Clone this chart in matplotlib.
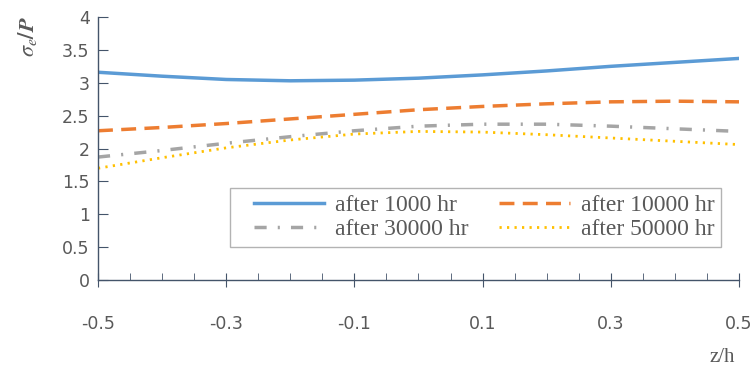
import numpy as np
from matplotlib import pyplot as plt
from matplotlib.lines import Line2D
from matplotlib.legend_handler import HandlerLine2D
from matplotlib.ticker import MultipleLocator

plt.rcParams["mathtext.fontset"] = "stix"

z = [-0.5, -0.4, -0.3, -0.2, -0.1, 0.0, 0.1, 0.2, 0.3, 0.4, 0.5]
after_1000 = [3.16, 3.10, 3.05, 3.03, 3.04, 3.07, 3.12, 3.18, 3.25, 3.31, 3.37]
after_10000 = [2.27, 2.32, 2.38, 2.45, 2.52, 2.59, 2.64, 2.68, 2.71, 2.72, 2.71]
after_30000 = [1.87, 1.97, 2.08, 2.18, 2.27, 2.34, 2.37, 2.37, 2.34, 2.30, 2.26]
after_50000 = [1.70, 1.86, 2.01, 2.13, 2.22, 2.26, 2.25, 2.21, 2.16, 2.11, 2.06]
labels = ["after 1000 hr", "after 10000 hr", "after 30000 hr", "after 50000 hr"]

figure = plt.figure(figsize=(7.56, 3.70), dpi=100)
axis = figure.add_axes([0.1296, 0.2432, 0.8479, 0.7108])

l1, = axis.plot(z, after_1000, color="#5B9BD5", lw=2.5, label=labels[0])
l2, = axis.plot(z, after_10000, color="#ED7D31", lw=2.5, dashes=(4.3, 2.4), label=labels[1])
l3, = axis.plot(z, after_30000, color="#A5A5A5", lw=2.5, dashes=(3.5, 3.2, 0.6, 3.2), label=labels[2])
l4, = axis.plot(z, after_50000, color="#FFC000", lw=2.0, dashes=(0.8, 1.9), label=labels[3])

axis.set_xlim(-0.5, 0.5)
axis.set_ylim(0, 4)
axis.set_xticks([-0.5, -0.3, -0.1, 0.1, 0.3, 0.5])
axis.set_xticklabels(["-0.5", "-0.3", "-0.1", "0.1", "0.3", "0.5"])
axis.xaxis.set_minor_locator(MultipleLocator(0.05))
axis.set_yticks(np.arange(0, 4.01, 0.5))
axis.set_yticklabels(["0", "0.5", "1", "1.5", "2", "2.5", "3", "3.5", "4"])

for side in ["top", "right"]:
    axis.spines[side].set_visible(False)
for side in ["left", "bottom"]:
    axis.spines[side].set_color("#44546A")
    axis.spines[side].set_linewidth(1.0)

axis.tick_params(axis="x", which="major", direction="inout", length=10, color="#44546A",
                 labelsize=12.5, labelcolor="#595959", pad=20)
axis.tick_params(axis="x", which="minor", direction="in", length=5, color="#44546A")
axis.tick_params(axis="y", which="major", direction="in", length=7, color="#44546A",
                 labelsize=12.5, labelcolor="#595959", pad=6)

figure.text(0.036, 0.90, r"$\boldsymbol{\sigma_e/P}$", rotation=90, fontsize=16,
            color="#595959", ha="center", va="center")
figure.text(0.955, 0.035, "z/h", fontsize=15, color="#595959", family="Liberation Serif",
            ha="center", va="center")

# row-wise order like the original, with a gap before each handle
legend = axis.legend([l1, l3, l2, l4], [labels[0], labels[2], labels[1], labels[3]],
                     ncol=2, loc="upper left", bbox_to_anchor=(0.206, 0.351),
                     prop={"family": "Liberation Serif", "size": 17},
                     frameon=True, fancybox=False, edgecolor="#A0A0A0",
                     handlelength=3.7, columnspacing=0.6, borderpad=0.3,
                     labelspacing=0.1, handletextpad=0.45, borderaxespad=0,
                     handler_map={Line2D: HandlerLine2D(xpad=0.7)})
legend.get_frame().set_linewidth(1.0)
for text in legend.get_texts():
    text.set_color("#595959")

figure.savefig("out.png", dpi=100)
plt.close(figure)
